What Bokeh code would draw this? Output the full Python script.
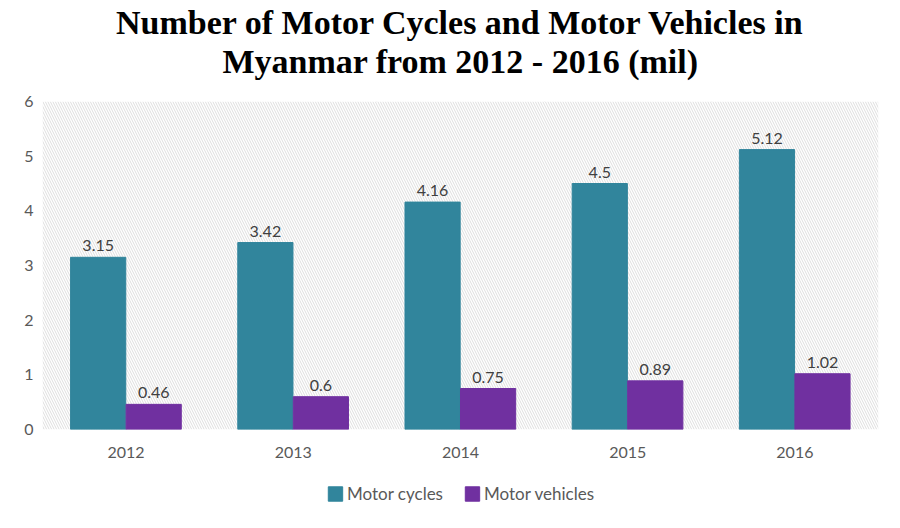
from bokeh.plotting import figure
from bokeh.layouts import column
from bokeh.models import (Range1d, FixedTicker, BoxAnnotation, LabelSet,
                          ColumnDataSource, Legend, LegendItem, Title)
from bokeh.core.properties import value
from bokeh.embed import file_html
from bokeh.resources import INLINE

years = ["2012", "2013", "2014", "2015", "2016"]
motor_cycles = [3.15, 3.42, 4.16, 4.5, 5.12]
motor_vehicles = [0.46, 0.6, 0.75, 0.89, 1.02]
y_ticks = [0, 1, 2, 3, 4, 5, 6]
series_names = ["Motor cycles", "Motor vehicles"]
colors = ["#31859C", "#7030A0"]
title_lines = ["Number of Motor Cycles and Motor Vehicles in",
               "Myanmar from 2012 - 2016 (mil)"]

idx = list(range(len(years)))
src = ColumnDataSource(dict(
    mc_x=[i + 0.333 for i in idx],
    mv_x=[i + 0.665 for i in idx],
    mc=motor_cycles,
    mv=motor_vehicles,
    mc_lbl=[f"{v:g}" for v in motor_cycles],
    mv_lbl=[f"{v:g}" for v in motor_vehicles],
))

p = figure(width=884, height=470, output_backend="svg", toolbar_location=None,
           x_range=Range1d(0, len(years)), y_range=Range1d(0, 6))
p.min_border_left = 42
p.min_border_right = 6
p.min_border_top = 101
p.min_border_bottom = 41
p.outline_line_color = None
p.background_fill_color = "white"

def style_title(t, standoff, size="34px"):
    t.align = "center"
    t.text_font = "Liberation Serif"
    t.text_font_style = "bold"
    t.text_font_size = size
    t.text_color = "black"
    t.standoff = standoff

# p.title is outermost; later-added titles stack between it and the frame
p.title.text = title_lines[0]
style_title(p.title, 0)
spacer = Title(text=" ")
style_title(spacer, 9, "10px")
p.add_layout(spacer, "above")
t2 = Title(text=title_lines[1])
style_title(t2, 0)
p.add_layout(t2, "above")

bg = BoxAnnotation(fill_color="white", fill_alpha=1, line_color=None,
                   hatch_pattern="\\", hatch_color="#dedede", hatch_scale=5,
                   hatch_weight=1, level="underlay")
p.add_layout(bg)

r1 = p.vbar(x="mc_x", top="mc", width=0.33, source=src, color=colors[0])
r2 = p.vbar(x="mv_x", top="mv", width=0.33, source=src, color=colors[1])

for xcol, ycol, lcol in [("mc_x", "mc", "mc_lbl"), ("mv_x", "mv", "mv_lbl")]:
    p.add_layout(LabelSet(x=xcol, y=ycol, text=lcol, source=src, y_offset=6,
                          text_align="center", text_baseline="bottom",
                          text_font=value("Lato"), text_font_size="16px",
                          text_color="#404040"))

p.yaxis.ticker = FixedTicker(ticks=y_ticks)
p.xaxis.ticker = FixedTicker(ticks=[i + 0.5 for i in idx])
p.xaxis.major_label_overrides = {i + 0.5: y for i, y in zip(idx, years)}
for ax in (p.xaxis, p.yaxis):
    ax.axis_line_color = None
    ax.major_tick_line_color = None
    ax.minor_tick_line_color = None
    ax.major_label_text_font = "Lato"
    ax.major_label_text_font_size = "16px"
    ax.major_label_text_color = "#595959"
p.yaxis.major_label_standoff = 3
p.xaxis.major_label_standoff = 11

p.ygrid.grid_line_color = "#d9d9d9"
p.ygrid.grid_line_width = 1.5
p.xgrid.ticker = FixedTicker(ticks=[1, 2, 3, 4])
p.xgrid.grid_line_color = "#d9d9d9"
p.xgrid.grid_line_width = 1

# legend strip below the chart (bars drawn out of view, only used as legend glyphs)
lf = figure(width=884, height=46, output_backend="svg", toolbar_location=None,
            x_axis_type=None, y_axis_type=None, min_border=0,
            x_range=Range1d(0, len(years)), y_range=Range1d(100, 101))
lf.outline_line_color = None
l1 = lf.vbar(x="mc_x", top="mc", width=0.33, source=src, color=colors[0])
l2 = lf.vbar(x="mv_x", top="mv", width=0.33, source=src, color=colors[1])
legend = Legend(items=[LegendItem(label=series_names[0], renderers=[l1]),
                       LegendItem(label=series_names[1], renderers=[l2])],
                orientation="horizontal", location="center",
                label_text_font="Lato", label_text_font_size="17px",
                label_text_color="#595959", glyph_width=18, glyph_height=18,
                spacing=20, label_standoff=3, border_line_color=None,
                background_fill_alpha=0, margin=0, padding=0)
lf.add_layout(legend, "center")

layout = column(p, lf, spacing=0)
open("out.html", "w").write(file_html(layout, INLINE))
